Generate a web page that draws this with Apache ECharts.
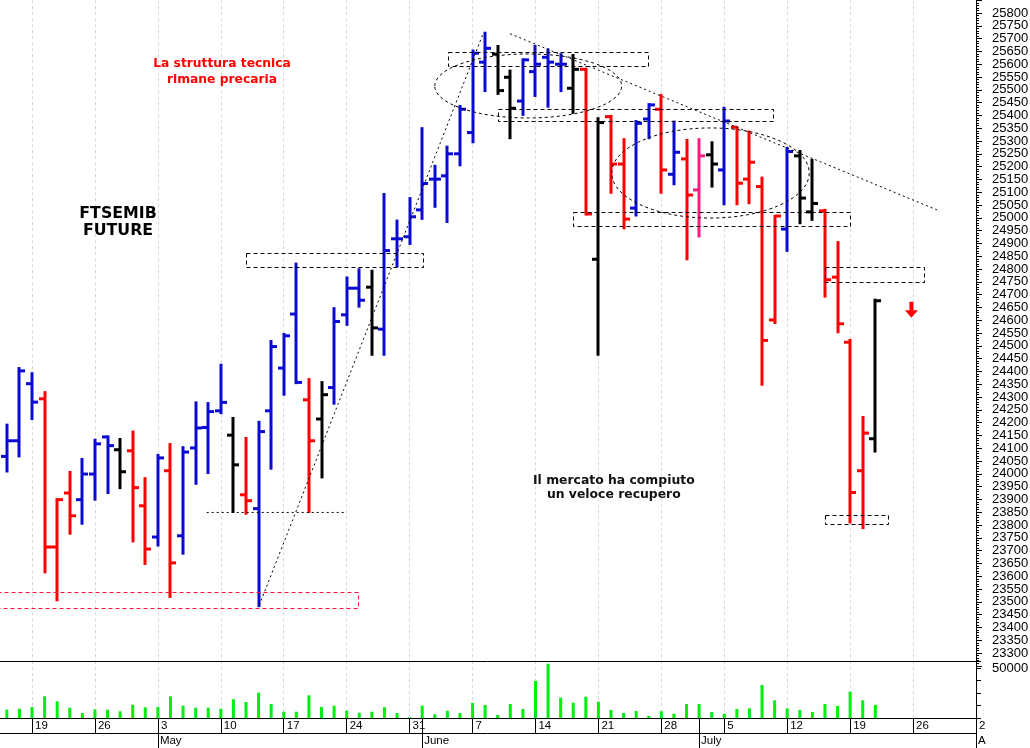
<!DOCTYPE html>
<html><head><meta charset="utf-8">
<script src="https://cdn.jsdelivr.net/npm/echarts@6/dist/echarts.min.js"></script>
<style>html,body{margin:0;padding:0;background:#fff}#c{width:1030px;height:748px}</style>
</head><body><div id="c"></div>
<script>
// ---- axis calendar (trading weekdays, 14 Apr 2021 .. 2 Aug 2021)
const categories = [];
(function () {
  let t = Date.UTC(2021, 3, 14); const end = Date.UTC(2021, 7, 2);
  while (t <= end) { const d = new Date(t); const wd = d.getUTCDay(); if (wd > 0 && wd < 6) categories.push(d.toISOString().slice(0, 10)); t += 86400000; }
})();

// ---- daily bars
const dates = ['2021-04-15','2021-04-16',
 '2021-04-19','2021-04-20','2021-04-21','2021-04-22','2021-04-23',
 '2021-04-26','2021-04-27','2021-04-28','2021-04-29','2021-04-30',
 '2021-05-03','2021-05-04','2021-05-05','2021-05-06','2021-05-07',
 '2021-05-10','2021-05-11','2021-05-12','2021-05-13','2021-05-14',
 '2021-05-17','2021-05-18','2021-05-19','2021-05-20','2021-05-21',
 '2021-05-24','2021-05-25','2021-05-26','2021-05-27','2021-05-28',
 '2021-05-31','2021-06-01','2021-06-02','2021-06-03','2021-06-04',
 '2021-06-07','2021-06-08','2021-06-09','2021-06-10','2021-06-11',
 '2021-06-14','2021-06-15','2021-06-16','2021-06-17','2021-06-18',
 '2021-06-21','2021-06-22','2021-06-23','2021-06-24','2021-06-25',
 '2021-06-28','2021-06-29','2021-06-30','2021-07-01','2021-07-02',
 '2021-07-05','2021-07-06','2021-07-07','2021-07-08','2021-07-09',
 '2021-07-12','2021-07-13','2021-07-14','2021-07-15','2021-07-16',
 '2021-07-19','2021-07-20','2021-07-21'];
const open = [24068,24129, 24352,24293,23714,23925,23899, 23999,24144,24094,24090,23875,
 23753,24012,23758,24101,24181, 24246,24151,23918,23864,24246, 24413,24624,24289,24214,24337,
 24621,24725,24729,24565,24918, 24926,25031,25151,25164,25250, 25333,25608,25639,25549,25456,
 25571,25627,25600,25506,25580, 24838,25395,25210,25038,25386, 25424,25170,25230,25109,25246,
 25187,25354,25151,25122,24601, 24956,25242,25023,25027,24768, 24514,24012,24137];
const high = [24192,24413, 24393,24319,23901,24007,24058, 24133,24146,24136,24165,23983,
 24074,24116,24104,24279,24276, 24426,24218,24140,24203,24519, 24546,24821,24370,24358,24647,
 24767,24799,24793,25093,24989, 25077,25350,25203,25278,25437, 25653,25723,25671,25575,25619,
 25671,25658,25639,25636,25582, 25389,25398,25307,25378,25444, 25480,25376,25304,25307,25295,
 25430,25354,25337,25157,25007, 25273,25261,25226,25031,24905, 24523,24222,24680];
const low = [24009,24068, 24214,23615,23506,23766,23805, 23899,23925,23944,23736,23648,
 23720,23519,23688,23961,24003, 24237,23851,23844,23483,24020, 24309,24354,23851,23986,24274,
 24582,24653,24465,24465,24810, 24898,24996,25043,24984,25205, 25295,25495,25484,25311,25402,
 25476,25434,25495,25410,25013, 24465,25098,24959,25009,25311, 25098,25131,24838,24927,25122,
 25053,25053,25057,24348,24589, 24871,24979,24992,24692,24553, 23810,23788,24087];
const close = [24129,24402, 24280,23714,23899,23836,23999, 24117,24110,24008,23946,23706,
 24062,23652,24085,24179,24243, 24279,24035,23895,24165,24497, 24539,24357,24129,24309,24595,
 24725,24678,24570,24872,24918, 25004,25134,25151,25250,25424, 25643,25662,25497,25428,25617,
 25600,25608,25600,25580,25015, 25372,25210,24995,25369,25441, 25187,25256,25089,25242,25210,
 25378,25135,25217,24521,25007, 25259,25077,25056,24758,24586, 23927,24159,24676];
// bar colour class: u = blue, d = red, n = black, p = pink
const barClass = ('uu'+'udddu'+'uundd'+'uduuu'+'unduu'+'uudnu'+'uunuu'+'uuuuu'+'uunnu'+'uuund'+
 'ndduu'+'dudpn'+'udddd'+'unndd'+'ddn').split('');
const volume = [8300,9300, 11000,21700,16700,10300,5000, 8700,8300,6700,13300,10700,
 11000,21700,12300,10300,10300, 9300,18700,16000,25300,14000, 6300,6300,22700,11000,12300,
 7300,5300,6300,10700,5000, 700,12300,3700,7300,5000, 15000,13000,3000,14000,9000,
 37000,54300,20300,15300,21300, 16300,8000,5000,7000,2000, 6700,4300,14000,14000,6000,
 4300,9000,9700,33000,17700, 9700,8000,6000,14000,12000, 26300,17700,13000];
const monthLabels = {'05':'May','06':'June','07':'July','08':'A'};

// ---- annotations (category index, price)
const boxes = [
  {i1:36.05, i2:51.94, p1:25649, p2:25596, c:'#000'},
  {i1:40.02, i2:61.87, p1:25424, p2:25377, c:'#000'},
  {i1:45.98, i2:67.95, p1:25023, p2:24968, c:'#000'},
  {i1:66.0,  i2:73.87, p1:24807, p2:24749, c:'#000'},
  {i1:66.0,  i2:70.98, p1:23840, p2:23805, c:'#000'},
  {i1:20.0,  i2:34.04, p1:24862, p2:24807, c:'#000'},
  {i1:0.2,   i2:28.92, p1:23538, p2:23476, c:'#ff1040'}
];
const lines = [
  {i1:16.88, p1:23851, i2:28.0,  p2:23851},
  {i1:21.06, p1:23489, i2:38.85, p2:25723},
  {i1:40.98, p1:25721, i2:75.14, p2:25028}
];
const ellipses = [
  {i1:35.0,  i2:49.85, p1:25640, p2:25390},
  {i1:49.05, i2:64.75, p1:25351, p2:24999}
];
const arrowAt = {i:72.87, p:24672};

const COLORS = {u:'#0a0ad2', d:'#ff0000', n:'#000000', p:'#ff1a80'};
const isMon = (idx, val) => new Date(val + 'T00:00:00Z').getUTCDay() === 1;
const isMonthStart = (idx, val) => idx > 0 && categories[idx].slice(5,7) !== categories[idx-1].slice(5,7);
const LF = '"Liberation Sans", Arial, sans-serif';
const GRID_LINE = {show:true, lineStyle:{color:'#d6d6dc', type:[3,3], width:1}};

const ohlc = dates.map((d, k) => [d, open[k], high[k], low[k], close[k], barClass[k]]);
const vol = dates.map((d, k) => [d, volume[k]]);

const chart = echarts.init(document.getElementById('c'), null, {renderer:'canvas'});
chart.setOption({
  animation:false,
  backgroundColor:'#fff',
  grid:[
    {left:-5.74, right:54, top:0.2, height:665.6, containLabel:false, outerBoundsMode:'none'},
    {left:-5.74, right:54, top:661, height:57, containLabel:false, outerBoundsMode:'none'}
  ],
  xAxis:[
    {type:'category', gridIndex:0, data:categories, boundaryGap:false,
     axisLine:{show:false}, axisTick:{show:false}, axisLabel:{show:false},
     splitLine:Object.assign({interval:isMon}, GRID_LINE)},
    {type:'category', gridIndex:1, data:categories, boundaryGap:false, position:'bottom',
     axisLine:{show:true, lineStyle:{color:'#000', width:1}},
     axisTick:{show:true, interval:isMon, length:15, lineStyle:{color:'#000'}},
     axisLabel:{show:true, interval:isMon, align:'left', margin:2, padding:[0,0,0,3],
       fontSize:11.5, fontFamily:LF, color:'#000', formatter:v => String(parseInt(v.slice(8,10),10))},
     splitLine:Object.assign({interval:isMon}, GRID_LINE)},
    {type:'category', gridIndex:1, data:categories, boundaryGap:false, position:'bottom',
     axisLine:{show:false},
     axisTick:{show:true, interval:isMonthStart, length:30, lineStyle:{color:'#000'}},
     axisLabel:{show:true, interval:isMonthStart, align:'left', margin:17, padding:[0,0,0,2],
       fontSize:11.5, fontFamily:LF, color:'#000', formatter:v => monthLabels[v.slice(5,7)] || ''},
     splitLine:{show:false}},
    {type:'category', gridIndex:1, data:categories, boundaryGap:false, position:'bottom', offset:15,
     axisLine:{show:true, lineStyle:{color:'#000'}}, axisTick:{show:false}, axisLabel:{show:false}, splitLine:{show:false}},
    {type:'category', gridIndex:1, data:categories, boundaryGap:false, position:'top',
     axisLine:{show:true, lineStyle:{color:'#000'}}, axisTick:{show:false}, axisLabel:{show:false}, splitLine:{show:false}}
  ],
  yAxis:[
    {type:'value', gridIndex:0, position:'right', min:23250, max:25850, interval:50,
     axisLine:{show:true, lineStyle:{color:'#000'}},
     axisTick:{show:true, length:6, lineStyle:{color:'#000'}},
     minorTick:{show:true, splitNumber:5, length:3, lineStyle:{color:'#000'}},
     axisLabel:{show:true, margin:16, fontSize:13, fontFamily:LF, color:'#000',
       formatter:v => (v <= 23250 || v >= 25850) ? '' : String(v)},
     splitLine:{show:false}},
    {type:'value', gridIndex:1, position:'right', min:0, max:57000, interval:12500,
     axisLine:{show:true, lineStyle:{color:'#000'}},
     axisTick:{show:true, length:5, lineStyle:{color:'#000'}},
     axisLabel:{show:true, margin:16, fontSize:13, fontFamily:LF, color:'#000',
       formatter:v => v === 50000 ? '50000' : ''},
     splitLine:{show:false}}
  ],
  series:[
    {type:'custom', xAxisIndex:0, yAxisIndex:0, data:ohlc, clip:false,
     dimensions:['date','open','high','low','close','cls'],
     encode:{x:0, y:[1,2,3,4]},
     renderItem:function (params, api) {
       const i = api.value(0);
       const pO = api.coord([i, api.value(1)]);
       const pH = api.coord([i, api.value(2)]);
       const pL = api.coord([i, api.value(3)]);
       const pC = api.coord([i, api.value(4)]);
       const col = COLORS[ohlc[params.dataIndex][5]];
       const x = Math.round(pO[0]);
       const st = {stroke:col, lineWidth:3, lineCap:'butt'};
       return {type:'group', children:[
         {type:'line', shape:{x1:x, y1:pH[1]-1, x2:x, y2:pL[1]+1}, style:st},
         {type:'line', shape:{x1:x-6, y1:pO[1], x2:x, y2:pO[1]}, style:st},
         {type:'line', shape:{x1:x, y1:pC[1], x2:x+6, y2:pC[1]}, style:st}
       ]};
     }},
    {type:'bar', xAxisIndex:1, yAxisIndex:1, data:vol, barWidth:3,
     itemStyle:{color:'#00f010'}}
  ]
});

// ---- annotations positioned through the chart's own scales
const N = categories.length - 1;
function P(i, price) {
  const a = chart.convertToPixel({xAxisIndex:0, yAxisIndex:0}, [0, price]);
  const b = chart.convertToPixel({xAxisIndex:0, yAxisIndex:0}, [N, price]);
  return [a[0] + (b[0] - a[0]) * i / N, a[1]];
}
const g = [];
boxes.forEach(b => {
  const p = P(b.i1, b.p1), q = P(b.i2, b.p2);
  g.push({type:'rect', silent:true, z:50,
    shape:{x:Math.round(p[0])+0.5, y:Math.round(p[1])+0.5, width:Math.round(q[0]-p[0]), height:Math.round(q[1]-p[1])},
    style:{fill:'none', stroke:b.c, lineWidth:1, lineDash:[4,3]}});
});
lines.forEach(l => {
  const p = P(l.i1, l.p1), q = P(l.i2, l.p2);
  g.push({type:'line', silent:true, z:50, shape:{x1:p[0], y1:p[1]+0.5, x2:q[0], y2:q[1]+0.5},
    style:{stroke:'#000', lineWidth:1, lineDash:[2,3]}});
});
ellipses.forEach(e => {
  const p = P(e.i1, e.p1), q = P(e.i2, e.p2);
  g.push({type:'ellipse', silent:true, z:50,
    shape:{cx:(p[0]+q[0])/2, cy:(p[1]+q[1])/2, rx:Math.abs(q[0]-p[0])/2, ry:Math.abs(q[1]-p[1])/2},
    style:{fill:'none', stroke:'#000', lineWidth:1, lineDash:[3,3]}});
});
(function () {
  const a = P(arrowAt.i, arrowAt.p);
  g.push({type:'rect', silent:true, z:50, shape:{x:a[0]-2, y:a[1], width:4, height:9}, style:{fill:'#ff0000'}});
  g.push({type:'polygon', silent:true, z:50, shape:{points:[[a[0]-6.5, a[1]+8.5],[a[0]+6.5, a[1]+8.5],[a[0], a[1]+16]]}, style:{fill:'#ff0000'}});
})();
const AF = '"DejaVu Sans", Verdana, sans-serif';
g.push({type:'text', silent:true, z:60, style:{text:'La struttura tecnica\nrimane precaria', x:222, y:71.7,
  align:'center', verticalAlign:'middle', font:'bold 12.3px ' + AF, fill:'#ff0000', lineHeight:15.3}});
g.push({type:'text', silent:true, z:60, style:{text:'FTSEMIB\nFUTURE', x:118, y:222.3,
  align:'center', verticalAlign:'middle', font:'bold 15.8px ' + AF, fill:'#000', lineHeight:16.6}});
g.push({type:'text', silent:true, z:60, style:{text:'Il mercato ha compiuto\nun veloce recupero', x:613.8, y:487.9,
  align:'center', verticalAlign:'middle', font:'bold 12.4px ' + AF, fill:'#111', lineHeight:14.3}});
chart.setOption({graphic:g});
</script></body></html>
